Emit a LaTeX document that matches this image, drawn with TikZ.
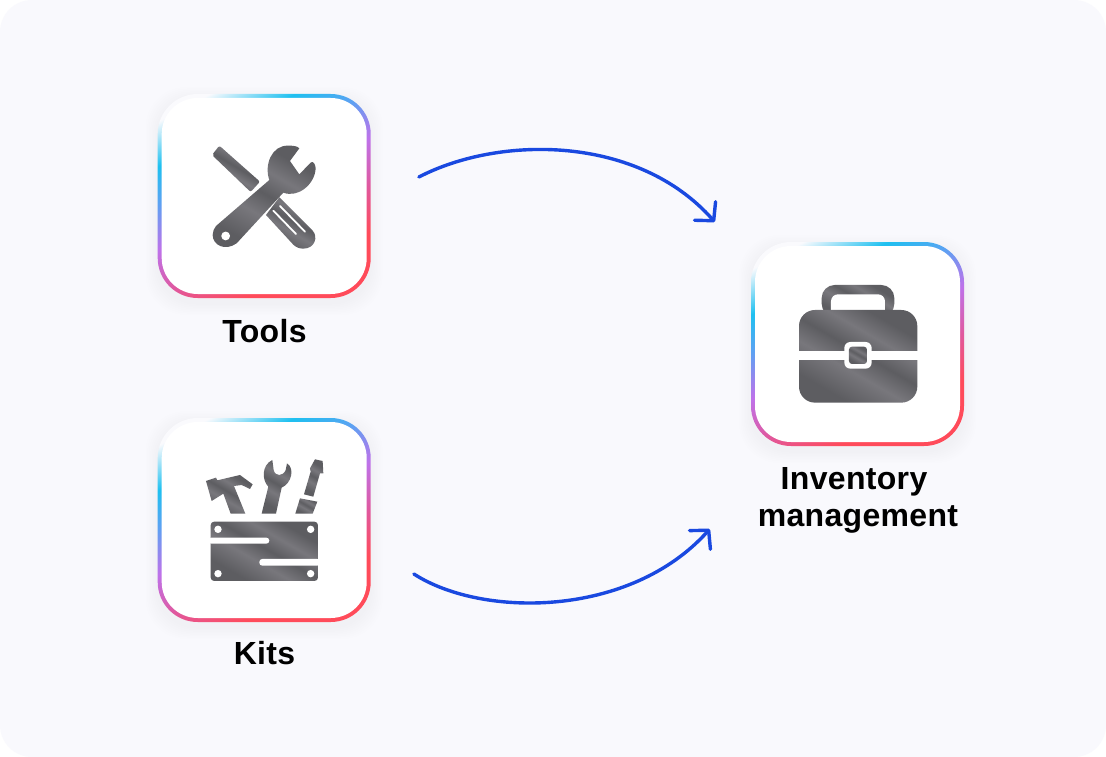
\documentclass[tikz,border=0pt]{standalone}
\usepackage{fontspec}
\setmainfont{Liberation Sans}
\usetikzlibrary{arrows.meta,calc}
\definecolor{bgc}{HTML}{F9F9FD}
\definecolor{arrowc}{HTML}{1A49E0}
\definecolor{gw}{HTML}{FAFAFD}
\definecolor{gc}{HTML}{1EC0F0}
\definecolor{gb}{HTML}{5FA0F2}
\definecolor{gp}{HTML}{BE72EA}
\definecolor{gk}{HTML}{E0589E}
\definecolor{gr}{HTML}{FF4B5A}
\definecolor{m1}{HTML}{5D5D61}
\definecolor{m2}{HTML}{78777C}
\pgfdeclarehorizontalshading{ringgrad}{100bp}{color(0bp)=(gw);color(33bp)=(gw);color(35.5bp)=(gw);color(40.5bp)=(gc);color(44.8bp)=(gb);color(49.8bp)=(gp);color(55bp)=(gk);color(60.2bp)=(gr);color(100bp)=(gr)}
\pgfdeclarehorizontalshading{metal}{100bp}{color(0bp)=(m1);color(28bp)=(m1);color(42bp)=(m2);color(52bp)=(m1);color(62bp)=(m2);color(72bp)=(m1);color(100bp)=(m1)}
\tikzset{
  x=1pt,y=-1pt,
  tile/.style={fill=white,draw=none,inner sep=0pt,minimum width=205pt,minimum height=196pt,rounded corners=36pt},
  caption/.style={font=\fontsize{32}{37}\selectfont\bfseries\addfontfeature{LetterSpace=1},text=black,align=center,inner sep=0pt},
  flow/.style={draw=arrowc,line width=3.4pt,line cap=round,line join=round,-{Straight Barb[length=13pt,width=28pt,round]}},
  steel/.style={shading=metal,shading angle=60,even odd rule},
  slit/.style={draw=white,line width=1.8pt,line cap=round}
}
\newcommand{\ringtile}[3]{%
  \foreach \k in {1,...,8}{
    \fill[black,opacity=0.004,rounded corners=40pt] (#2-106.5-\k*1.5,#3-102+5-\k*1.5) rectangle (#2+106.5+\k*1.5,#3+102+5+\k*1.5);
  }
  \begin{scope}
    \clip[rounded corners=40pt] (#2-106.5,#3-102) rectangle (#2+106.5,#3+102);
    \shade[shading=ringgrad,shading angle=-62] (#2-200,#3-200) rectangle (#2+200,#3+200);
  \end{scope}
  \node[tile] (#1) at (#2,#3) {};
}
\begin{document}
\begin{tikzpicture}
\useasboundingbox (0,0) rectangle (1106,757);
\fill[white] (0,0) rectangle (1106,757);
\fill[bgc,rounded corners=32pt] (0,0) rectangle (1106,757);

\ringtile{tools}{264.2}{196}
\ringtile{kits}{264.2}{520}
\ringtile{inv}{857.5}{344}

% wrench and screwdriver
\begin{scope}[shift={(140,80)},x=0.3333pt,y=-0.3333pt]
  \shade[steel,rounded corners=2pt] (216,225) -- (238,197) -- (360,305) -- (332,336) -- cycle;
  \shade[steel] (418,352) -- (518,452) .. controls (535,470) and (525,506) .. (490,506) .. controls (478,506) and (468,502) .. (460,494) -- (378,405) -- cycle;
  \draw[slit] (400,392) -- (468,462);
  \draw[slit] (420,378) -- (495,455);
  \shade[steel] (228,438) -- (388,300) .. controls (372,255) and (395,195) .. (445,197) .. controls (460,197) and (472,198) .. (478,205) -- (450,243) -- (478,283) -- (513,247) .. controls (520,243) and (526,252) .. (527,265) .. controls (525,312) and (475,355) .. (430,338) -- (290,490) .. controls (255,515) and (218,495) .. (218,465) .. controls (218,455) and (222,445) .. (228,438) -- cycle;
  \fill[white] (257,468) circle (4.4pt);
\end{scope}

% kit
\begin{scope}[shift={(140,405)},x=0.3333pt,y=-0.3333pt]
  \shade[steel] (198,228) -- (228,218) -- (232,226) -- (300,210) -- (338,238) -- (330,252) -- (305,240) -- (282,243) -- (316,326) -- (272,326) -- (250,266) -- (215,288) -- cycle;
  \shade[steel] (365,326) -- (385,245) .. controls (365,225) and (365,180) .. (397,165) -- (401,195) .. controls (405,215) and (430,215) .. (437,195) -- (441,175) .. controls (465,190) and (455,235) .. (425,248) -- (408,326) -- cycle;
  \shade[steel] (510,190) -- (525,163) -- (548,168) -- (550,205) -- (540,205) -- (520,275) -- (492,268) -- (512,200) -- cycle;
  \shade[steel] (480,280) -- (532,290) -- (518,326) -- (466,326) -- cycle;
  \shade[steel,rounded corners=3.5pt] (212,350) rectangle (534,528);
  \fill[white,rounded corners=3pt] (205,398) rectangle (388,416);
  \fill[white,rounded corners=3pt] (358,462) rectangle (541,482);
  \fill[white] (234,373) circle (3.7pt) (512,373) circle (3.7pt) (234,506) circle (3.7pt) (512,506) circle (3.7pt);
\end{scope}

% briefcase
\begin{scope}[shift={(735,230)},x=0.3333pt,y=-0.3333pt]
  \shade[steel,rounded corners=13pt] (260,260) -- (260,165) -- (478,165) -- (478,260) -- cycle;
  \fill[white,rounded corners=7pt] (288,270) -- (288,193) -- (450,193) -- (450,270) -- cycle;
  \shade[steel,rounded corners=16pt] (192,240) rectangle (547,518);
  \fill[white] (185,364) rectangle (554,390);
  \fill[white,rounded corners=6pt] (328,336) rectangle (410,416);
  \shade[steel,rounded corners=3pt] (342,350) rectangle (396,402);
\end{scope}

\node[caption,anchor=base] (toolslabel) at (264.5,342) {Tools};
\node[caption,anchor=base] (kitslabel) at (264.5,664) {Kits};
\node[caption,anchor=base] (invlabel) at (858,526) {Inventory\hspace*{8pt}\\management};

\draw[flow] ([shift={(52,-19)}]tools.east) .. controls (500,135) and (638,135) .. ([shift={(-40,-122)}]inv.west);
\draw[flow] ([shift={(47,54)}]kits.east) .. controls (482,618) and (630,618) .. ([shift={(-45,185)}]inv.west);
\end{tikzpicture}
\end{document}
